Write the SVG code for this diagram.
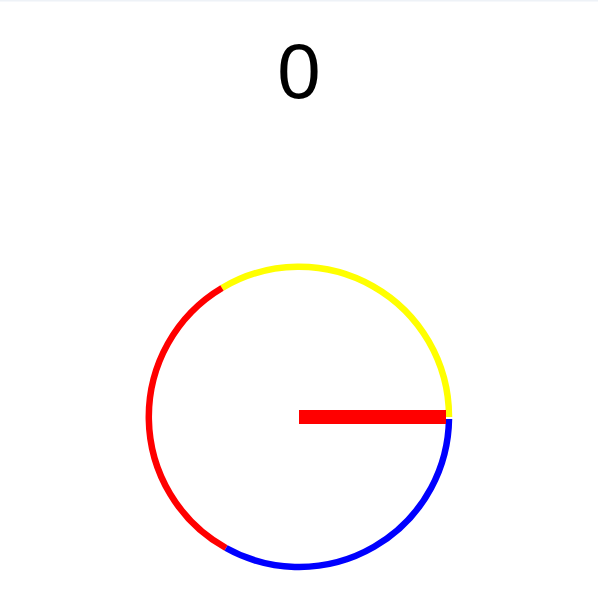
<svg xmlns="http://www.w3.org/2000/svg" width="598" height="600" viewBox="0 0 598 600">
<style>
.arc{fill:none;stroke-width:6.5}
</style>
<rect x="0" y="0" width="598" height="600" fill="#ffffff"/>
<rect x="0" y="0" width="598" height="1.5" fill="#eef2f7"/>
<g id="label"><text x="299" y="98" text-anchor="middle" font-family="'Liberation Sans', Arial, sans-serif" font-size="78" fill="#000">0</text></g>
<g id="connectors">
<path class="arc" stroke="#ffff00" d="M 449 417 A 150 150 0 0 0 222 288"/>
<path class="arc" stroke="#ff0000" d="M 222 288 A 150 150 0 0 0 226 548"/>
<path class="arc" stroke="#0000ff" d="M 226 548 A 150 150 0 0 0 449 419"/>
</g>
<g id="needle"><rect x="299" y="410" width="147" height="14" fill="#ff0000"/></g>
</svg>
